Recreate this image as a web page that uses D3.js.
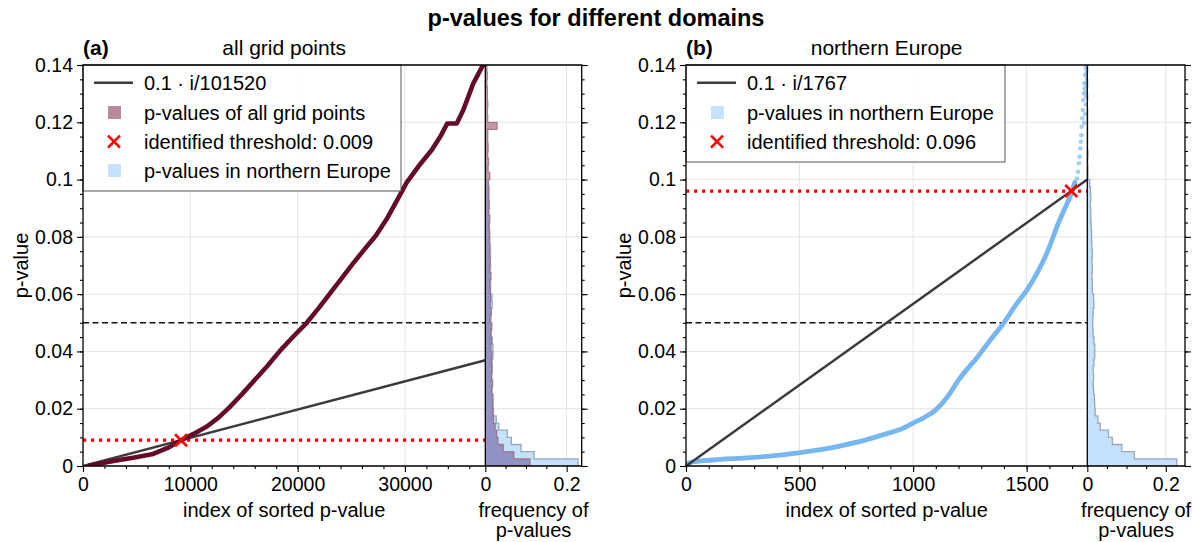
<!DOCTYPE html>
<html>
<head>
<meta charset="utf-8">
<script src="https://cdn.jsdelivr.net/npm/d3@7"></script>
<style>
  body { margin: 0; background: #fff; }
  text { font-family: "Liberation Sans", Arial, Helvetica, sans-serif; fill: #000; }
</style>
</head>
<body>
<svg id="chart" width="1192" height="542"></svg>
<script>
// ---------------- data ----------------
const chartTitle = "p-values for different domains";
const panelLetters = ["(a)", "(b)"];
const panelTitles = ["all grid points", "northern Europe"];
const pointCounts = [101520, 1767];          // N in the 0.1 · i/N reference line
const thresholds = [0.009, 0.096];           // identified thresholds
const alphaLevel = 0.05;                     // dashed reference level
const binWidth = 0.0025;                     // histogram bin width (p-value)

// sorted p-values, all grid points: [index, p-value]
const allGridSorted = [
  [500, 0.0001], [1500, 0.0008], [2960, 0.0018], [4800, 0.0030], [6540, 0.0042],
  [8000, 0.0065], [9137, 0.0090], [10300, 0.0112], [11540, 0.0138], [12600, 0.0168],
  [13600, 0.0203], [14800, 0.0250], [16000, 0.0300], [17200, 0.0350], [18350, 0.0402],
  [19600, 0.0452], [20850, 0.0500], [22000, 0.0553], [23020, 0.0603], [24100, 0.0655],
  [25190, 0.0708], [26300, 0.0760], [27300, 0.0805], [28300, 0.0862], [29300, 0.0930],
  [30170, 0.0990], [31300, 0.1048], [32500, 0.1103], [33300, 0.1150], [33950, 0.1196],
  [34830, 0.1196], [35440, 0.1243], [36370, 0.1336], [37370, 0.1406]
];

// sorted p-values, northern Europe (dense part): [index, p-value]
const northSorted = [
  [0, 0.0008], [30, 0.0014], [117, 0.0021], [283, 0.0029], [400, 0.0037],
  [500, 0.0047], [600, 0.0058], [700, 0.0074], [800, 0.0093], [867, 0.0109],
  [950, 0.0130], [1000, 0.0150], [1050, 0.0170], [1100, 0.0196], [1150, 0.0240],
  [1200, 0.0300], [1240, 0.0340], [1273, 0.0370], [1340, 0.0440], [1398, 0.0498],
  [1450, 0.0560], [1501, 0.0614], [1540, 0.0665], [1575, 0.0719], [1605, 0.0775],
  [1633, 0.0835], [1660, 0.0885], [1685, 0.0929], [1700, 0.0958], [1712, 0.0990]
];
// sorted p-values, northern Europe (sparse upper tail): [index, p-value]
const northSortedTail = [
  [1716, 0.0981], [1722, 0.1004], [1726, 0.1027], [1730, 0.1057], [1733, 0.1080],
  [1736, 0.1109], [1739, 0.1132], [1741, 0.1155], [1742, 0.1185], [1745, 0.1214],
  [1747, 0.1243], [1749, 0.1278], [1751, 0.1301], [1755, 0.1318], [1754, 0.1336],
  [1758, 0.1365], [1761, 0.1394], [1763, 0.1385], [1764, 0.1372], [1765, 0.1352],
  [1765, 0.1340], [1766, 0.1328], [1764, 0.1305], [1762, 0.1290], [1760, 0.1262],
  [1757, 0.1230], [1753, 0.1198]
];

// histogram frequencies per 0.0025 bin, from p = 0 upward
const allGridFreq = [
  0.110, 0.070, 0.044, 0.031, 0.028, 0.024, 0.020, 0.019,
  0.018, 0.019, 0.016, 0.018, 0.015, 0.017, 0.015, 0.016,
  0.014, 0.015, 0.013, 0.016, 0.012, 0.014, 0.012, 0.013,
  0.012, 0.011, 0.014, 0.010, 0.012, 0.010, 0.011, 0.010,
  0.010, 0.009, 0.011, 0.008, 0.010, 0.008, 0.009, 0.008,
  0.011, 0.007, 0.008, 0.006, 0.007, 0.006, 0.006, 0.029,
  0.006, 0.005, 0.006, 0.005, 0.005, 0.004, 0.005, 0.004
];
const northFreq = [
  0.228, 0.120, 0.088, 0.064, 0.054, 0.033, 0.027, 0.020,
  0.019, 0.018, 0.016, 0.015, 0.016, 0.015, 0.017, 0.019,
  0.019, 0.017, 0.015, 0.014, 0.014, 0.015, 0.017, 0.016,
  0.013, 0.013, 0.012, 0.013, 0.012, 0.013, 0.012, 0.011,
  0.011, 0.010, 0.009, 0.009, 0.008, 0.009, 0.008, 0.006,
  0.002, 0.002, 0.001, 0.002, 0.001, 0.001, 0.001, 0.001,
  0.001, 0.001, 0.000, 0.001, 0.000, 0.001, 0.000, 0.001
];

// tick values
const yTicks = [0, 0.02, 0.04, 0.06, 0.08, 0.1, 0.12, 0.14];
const xTicksA = [0, 10000, 20000, 30000];
const xTicksB = [0, 500, 1000, 1500];
const histTicks = [0, 0.2];
const legendA = ["0.1 · i/101520", "p-values of all grid points", "identified threshold: 0.009", "p-values in northern Europe"];
const legendB = ["0.1 · i/1767", "p-values in northern Europe", "identified threshold: 0.096"];

// ---------------- styles ----------------
const C = {
  grid: "#e4e4e4",
  ratio: "#3b3b3b",
  maroon: "#650a2b",
  maroonFill: "#c39aa9",
  maroonEdge: "#9c6a7e",
  blue: "#76b6f2",
  blueFill: "#c6e1fb",
  blueEdge: "#8796a6",
  overlap: "#9191c3",
  red: "#ff0000"
};
const TICK_FS = 19.5, LABEL_FS = 20, LEGEND_FS = 20, SUB_FS = 21;

const svg = d3.select("#chart");

// ---------------- title ----------------
svg.append("text").attr("x", 596).attr("y", 26).attr("text-anchor", "middle")
  .style("font-size", "23.5px").style("font-weight", "bold").text(chartTitle);

const yTop = 65, yBottom = 466;

function drawPanel(o) {
  const g = svg.append("g");
  const x = d3.scaleLinear().domain([0, o.xMax]).range([o.left, o.split]);
  const xh = d3.scaleLinear().domain([0, o.hMax]).range([o.split, o.right]);
  const y = d3.scaleLinear().domain([0, 0.14]).range([yBottom, yTop]);

  const clipMain = "clipMain" + o.key, clipHist = "clipHist" + o.key;
  const defs = g.append("defs");
  defs.append("clipPath").attr("id", clipMain).append("rect")
    .attr("x", o.left).attr("y", yTop).attr("width", o.split - o.left).attr("height", yBottom - yTop);
  defs.append("clipPath").attr("id", clipHist).append("rect")
    .attr("x", o.split).attr("y", yTop).attr("width", o.right - o.split).attr("height", yBottom - yTop);

  // grid
  const grid = g.append("g").attr("stroke", C.grid).attr("stroke-width", 1);
  yTicks.slice(1).forEach(v => grid.append("line")
    .attr("x1", o.left).attr("x2", o.right).attr("y1", y(v)).attr("y2", y(v)));
  o.xTicks.slice(1).forEach(v => grid.append("line")
    .attr("x1", x(v)).attr("x2", x(v)).attr("y1", yTop).attr("y2", yBottom));
  histTicks.slice(1).forEach(v => grid.append("line")
    .attr("x1", xh(v)).attr("x2", xh(v)).attr("y1", yTop).attr("y2", yBottom));

  // histograms (step outlines)
  const stepPts = freq => {
    const pts = [[0, 0]];
    freq.forEach((f, i) => { pts.push([f, i * binWidth]); pts.push([f, (i + 1) * binWidth]); });
    pts.push([0, freq.length * binWidth]);
    return pts;
  };
  const stepLine = d3.line().x(d => xh(d[0])).y(d => y(d[1]));
  const hg = g.append("g").attr("clip-path", `url(#${clipHist})`);
  o.hists.forEach(h => {
    hg.append("path").attr("d", stepLine(stepPts(h.freq)) + "Z")
      .attr("fill", h.fill).attr("stroke", "none");
  });
  if (o.hists.length > 1) {
    const ov = o.hists[0].freq.map((f, i) => Math.min(f, o.hists[1].freq[i]));
    hg.append("path").attr("d", stepLine(stepPts(ov)) + "Z").attr("fill", C.overlap);
  }
  o.hists.forEach(h => {
    hg.append("path").attr("d", stepLine(stepPts(h.freq)))
      .attr("fill", "none").attr("stroke", h.edge).attr("stroke-width", 1.3).attr("stroke-opacity", 0.8);
  });

  const mg = g.append("g").attr("clip-path", `url(#${clipMain})`);
  // alpha level
  mg.append("line").attr("x1", o.left).attr("x2", o.split).attr("y1", y(alphaLevel)).attr("y2", y(alphaLevel))
    .attr("stroke", "#111").attr("stroke-width", 1.6).attr("stroke-dasharray", "6,3.5");
  // threshold level
  mg.append("line").attr("x1", o.left).attr("x2", o.split).attr("y1", y(o.threshold)).attr("y2", y(o.threshold))
    .attr("stroke", C.red).attr("stroke-width", 3.2).attr("stroke-dasharray", "3.2,4.8");

  // sorted p-values
  const line = d3.line().x(d => x(d[0])).y(d => y(d[1]));
  const smooth = d3.line().x(d => x(d[0])).y(d => y(d[1])).curve(d3.curveMonotoneX);
  if (o.key === "a") {
    // 0.1 · i/N reference line
    mg.append("path").attr("d", line([[0, 0], [o.xMax, 0.1 * o.xMax / o.n]]))
      .attr("stroke", C.ratio).attr("stroke-width", 2.5).attr("fill", "none");
    mg.append("path").attr("d", line(allGridSorted)).attr("fill", "none")
      .attr("stroke", C.maroon).attr("stroke-width", 4.6).attr("stroke-linejoin", "round");
  } else {
    mg.append("path").attr("d", smooth(northSorted)).attr("fill", "none")
      .attr("stroke", C.blue).attr("stroke-width", 4.8).attr("stroke-linejoin", "round")
      .attr("stroke-linecap", "round");
    mg.selectAll("circle.tail").data(northSortedTail).enter().append("circle")
      .attr("cx", d => x(d[0])).attr("cy", d => y(d[1])).attr("r", 2.3)
      .attr("fill", C.blue).attr("fill-opacity", 0.65);
    mg.append("path").attr("d", line([[0, 0], [o.xMax, 0.1 * o.xMax / o.n]]))
      .attr("stroke", C.ratio).attr("stroke-width", 2.5).attr("fill", "none");
  }

  // threshold marker
  const ix = x(o.threshold * o.n / 0.1), iy = y(o.threshold), s = 6;
  mg.append("path").attr("d", `M${ix - s},${iy - s}L${ix + s},${iy + s}M${ix - s},${iy + s}L${ix + s},${iy - s}`)
    .attr("stroke", C.red).attr("stroke-width", 2.6);

  // legend
  const lg = g.append("g");
  lg.append("rect").attr("x", o.left).attr("y", yTop).attr("width", o.legendW).attr("height", o.legendH)
    .attr("fill", "#fff").attr("fill-opacity", 0.9).attr("stroke", "#555").attr("stroke-width", 1);
  const rows = [82.7, 112.5, 141.7, 170.5];
  o.legend.forEach((txt, i) => {
    const ry = rows[i], kind = o.legendKinds[i];
    if (kind === "line") {
      lg.append("line").attr("x1", o.left + 11).attr("x2", o.left + 50).attr("y1", ry).attr("y2", ry)
        .attr("stroke", C.ratio).attr("stroke-width", 2.5);
    } else if (kind === "maroon" || kind === "blue") {
      lg.append("rect").attr("x", o.left + 25).attr("y", ry - 6.5).attr("width", 13).attr("height", 13)
        .attr("fill", kind === "maroon" ? "#b98a9b" : C.blueFill);
    } else {
      const cx = o.left + 31;
      lg.append("path").attr("d", `M${cx - 6},${ry - 6}L${cx + 6},${ry + 6}M${cx - 6},${ry + 6}L${cx + 6},${ry - 6}`)
        .attr("stroke", C.red).attr("stroke-width", 2.6);
    }
    lg.append("text").attr("x", o.left + 61).attr("y", ry).attr("dy", "0.36em")
      .style("font-size", LEGEND_FS + "px").text(txt);
  });

  // axes
  const fmt = d3.format("~g");
  const styleAxis = sel => {
    sel.select(".domain").remove();
    sel.selectAll(".tick line").attr("stroke", "#000").attr("stroke-width", 1.1);
    sel.selectAll(".tick text").style("font-size", TICK_FS + "px").attr("fill", "#000");
  };
  g.append("g").attr("transform", `translate(${o.left},0)`)
    .call(d3.axisLeft(y).tickValues(yTicks).tickSize(6).tickPadding(4).tickFormat(fmt)).call(styleAxis);
  g.append("g").attr("transform", `translate(${o.left},0)`)
    .call(d3.axisLeft(y).tickValues(d3.range(0, 0.1401, 0.005)).tickSize(3).tickFormat("")).call(styleAxis);
  g.append("g").attr("transform", `translate(${o.right},0)`)
    .call(d3.axisRight(y).tickValues(yTicks).tickSize(6).tickFormat("")).call(styleAxis);
  g.append("g").attr("transform", `translate(${o.right},0)`)
    .call(d3.axisRight(y).tickValues(d3.range(0, 0.1401, 0.005)).tickSize(3).tickFormat("")).call(styleAxis);
  g.append("g").attr("transform", `translate(0,${yBottom})`)
    .call(d3.axisBottom(x).tickValues(o.xTicks).tickSize(6).tickPadding(5).tickFormat(d3.format("d"))).call(styleAxis);
  g.append("g").attr("transform", `translate(0,${yBottom})`)
    .call(d3.axisBottom(x).tickValues(d3.range(0, o.xMax, o.xMinor)).tickSize(3).tickFormat("")).call(styleAxis);
  g.append("g").attr("transform", `translate(0,${yBottom})`)
    .call(d3.axisBottom(xh).tickValues(histTicks).tickSize(6).tickPadding(5).tickFormat(fmt)).call(styleAxis);
  g.append("g").attr("transform", `translate(0,${yBottom})`)
    .call(d3.axisBottom(xh).tickValues([0.05, 0.1, 0.15]).tickSize(3).tickFormat("")).call(styleAxis);

  // frame
  const fr = g.append("g").attr("stroke", "#000").attr("stroke-width", 1.3).attr("fill", "none");
  fr.append("path").attr("d",
    `M${o.left},${yTop}H${o.right}V${yBottom}H${o.left}Z M${o.split},${yTop}V${yBottom}`);

  // labels
  g.append("text").attr("x", o.left).attr("y", 55).style("font-size", SUB_FS + "px").style("font-weight", "bold")
    .text(o.letter);
  g.append("text").attr("x", (o.left + o.split) / 2).attr("y", 55).attr("text-anchor", "middle")
    .style("font-size", SUB_FS + "px").text(o.title);
  g.append("text").attr("transform", `translate(${o.left - 62},${(yTop + yBottom) / 2}) rotate(-90)`)
    .attr("text-anchor", "middle").attr("dy", "0.36em").style("font-size", LABEL_FS + "px").text("p-value");
  g.append("text").attr("x", (o.left + o.split) / 2).attr("y", 517).attr("text-anchor", "middle")
    .style("font-size", LABEL_FS + "px").text("index of sorted p-value");
  g.append("text").attr("x", (o.split + o.right) / 2).attr("y", 517).attr("text-anchor", "middle")
    .style("font-size", LABEL_FS + "px").text("frequency of");
  g.append("text").attr("x", (o.split + o.right) / 2).attr("y", 537).attr("text-anchor", "middle")
    .style("font-size", LABEL_FS + "px").text("p-values");
}

drawPanel({
  key: "a", left: 83, split: 485.3, right: 581.7, xMax: 37490, hMax: 0.237, xMinor: 2000,
  xTicks: xTicksA, n: pointCounts[0], threshold: thresholds[0],
  letter: panelLetters[0], title: panelTitles[0],
  hists: [
    { freq: northFreq, fill: C.blueFill, edge: C.blueEdge },
    { freq: allGridFreq, fill: C.maroonFill, edge: C.maroonEdge }
  ],
  legend: legendA, legendKinds: ["line", "maroon", "x", "blue"], legendW: 318, legendH: 126
});

drawPanel({
  key: "b", left: 686, split: 1087.3, right: 1185, xMax: pointCounts[1], hMax: 0.249, xMinor: 100,
  xTicks: xTicksB, n: pointCounts[1], threshold: thresholds[1],
  letter: panelLetters[1], title: panelTitles[1],
  hists: [{ freq: northFreq, fill: C.blueFill, edge: C.blueEdge }],
  legend: legendB, legendKinds: ["line", "blue", "x"], legendW: 319, legendH: 97
});
</script>
</body>
</html>
